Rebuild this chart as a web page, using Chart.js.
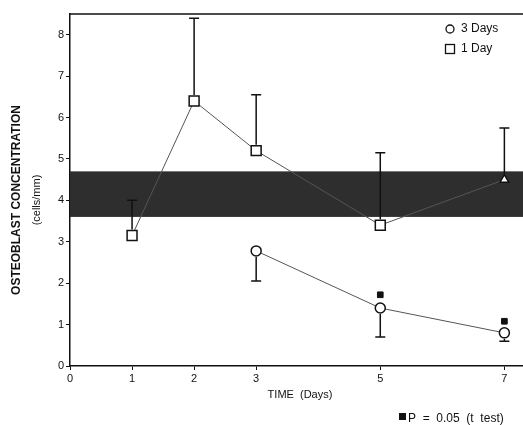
<!DOCTYPE html>
<html>
<head>
<meta charset="utf-8">
<script src="https://cdn.jsdelivr.net/npm/chart.js@4.4.1/dist/chart.umd.min.js"></script>
<style>
  html, body { margin: 0; padding: 0; background: #fff; }
  #wrap { width: 523px; height: 425px; }
</style>
</head>
<body>
<div id="wrap"><canvas id="chart" width="523" height="425"></canvas></div>
<script>
// values
const days1Day = [1, 2, 3, 5, 7];
const conc1Day = [3.15, 6.4, 5.2, 3.4, 4.5];
const errUp1Day = [0.85, 2.0, 1.35, 1.75, 1.25];

const days3Days = [3, 5, 7];
const conc3Days = [2.78, 1.4, 0.8];
const errDown3Days = [0.73, 0.7, 0.2];

const normalBand = [3.6, 4.7];
const sigDays = [5, 7];
const sigConc = [1.72, 1.08];

const xTicks = [0, 1, 2, 3, 5, 7];
const yTicks = [0, 1, 2, 3, 4, 5, 6, 7, 8];

const FONT = '"Liberation Sans", Arial, sans-serif';

const bandPlugin = {
    id: 'band',
    beforeDatasetsDraw(chart) {
        const { ctx, chartArea, scales } = chart;
        const top = scales.y.getPixelForValue(normalBand[1]);
        const bottom = scales.y.getPixelForValue(normalBand[0]);
        ctx.save();
        ctx.fillStyle = '#2e2e2e';
        ctx.fillRect(chartArea.left, top, chartArea.right - chartArea.left, bottom - top);
        ctx.restore();
    }
};

const errorBarPlugin = {
    id: 'errorBars',
    afterDatasetsDraw(chart) {
        const { ctx, scales } = chart;
        const cap = 5;
        ctx.save();
        ctx.strokeStyle = '#111';
        ctx.lineWidth = 1.5;
        const draw = (xs, ys, errs, dir) => {
            xs.forEach((d, i) => {
                const x = scales.x.getPixelForValue(d);
                const y0 = scales.y.getPixelForValue(ys[i]);
                const y1 = scales.y.getPixelForValue(ys[i] + dir * errs[i]);
                ctx.beginPath();
                ctx.moveTo(x, y0 - dir * 6);
                ctx.lineTo(x, y1);
                ctx.moveTo(x - cap, y1);
                ctx.lineTo(x + cap, y1);
                ctx.stroke();
            });
        };
        draw(days1Day, conc1Day, errUp1Day, 1);
        draw(days3Days, conc3Days, errDown3Days, -1);
        ctx.restore();
    }
};

const textPlugin = {
    id: 'texts',
    afterDraw(chart) {
        const { ctx, chartArea } = chart;
        ctx.save();
        ctx.strokeStyle = '#111';
        ctx.lineWidth = 1.5;
        ctx.beginPath();
        ctx.moveTo(chartArea.left, chartArea.top);
        ctx.lineTo(chartArea.right, chartArea.top);
        ctx.stroke();

        // y axis title, two rotated lines
        ctx.fillStyle = '#111';
        ctx.textAlign = 'center';
        ctx.textBaseline = 'middle';
        ctx.save();
        ctx.translate(17, 200);
        ctx.rotate(-Math.PI / 2);
        ctx.font = 'bold 12px ' + FONT;
        ctx.fillText('OSTEOBLAST CONCENTRATION', 0, 0);
        ctx.font = '11px ' + FONT;
        ctx.fillText('(cells/mm)', 0, 20);
        ctx.restore();

        // x axis title
        ctx.font = '11px ' + FONT;
        ctx.fillText('TIME  (Days)', 300, 395);

        // legend
        ctx.textAlign = 'left';
        ctx.font = '12px ' + FONT;
        ctx.lineWidth = 1.3;
        ctx.beginPath();
        ctx.arc(450, 29, 4, 0, Math.PI * 2);
        ctx.stroke();
        ctx.fillText('3 Days', 461, 29);
        ctx.strokeRect(445.5, 44.5, 9, 9);
        ctx.fillText('1 Day', 461, 49);

        // footnote
        ctx.fillRect(399, 413, 7, 7);
        ctx.font = '12px ' + FONT;
        ctx.fillText('P  =  0.05  (t  test)', 408, 419);
        ctx.restore();
    }
};

new Chart(document.getElementById('chart'), {
    type: 'scatter',
    data: {
        datasets: [
            {
                label: '1 Day',
                data: days1Day.map((d, i) => ({ x: d, y: conc1Day[i] })),
                showLine: true,
                borderColor: '#555',
                borderWidth: 1,
                pointStyle: ['rect', 'rect', 'rect', 'rect', 'triangle'],
                pointRadius: [7, 7, 7, 7, 5],
                pointBackgroundColor: '#fff',
                pointBorderColor: '#111',
                pointBorderWidth: 1.5
            },
            {
                label: '3 Days',
                data: days3Days.map((d, i) => ({ x: d, y: conc3Days[i] })),
                showLine: true,
                borderColor: '#555',
                borderWidth: 1,
                pointStyle: 'circle',
                pointRadius: 5,
                pointBackgroundColor: '#fff',
                pointBorderColor: '#111',
                pointBorderWidth: 1.5
            },
            {
                label: 'significant',
                data: sigDays.map((d, i) => ({ x: d, y: sigConc[i] })),
                showLine: false,
                pointStyle: 'rect',
                pointRadius: 4,
                pointBackgroundColor: '#111',
                pointBorderColor: '#111'
            }
        ]
    },
    options: {
        responsive: false,
        animation: false,
        layout: { autoPadding: false, padding: { top: 14, right: 0, left: 0, bottom: 0 } },
        plugins: {
            legend: { display: false },
            tooltip: { enabled: false }
        },
        scales: {
            x: {
                type: 'linear',
                min: 0,
                max: 7.3,
                afterBuildTicks: (scale) => { scale.ticks = xTicks.map(v => ({ value: v })); },
                afterFit: (scale) => {
                    scale.height = 59;
                    scale.paddingLeft = 0;
                    scale.paddingRight = 0;
                },
                ticks: { color: '#111', font: { size: 11, family: FONT }, padding: 2 },
                grid: { drawOnChartArea: false, color: '#111', tickLength: 4 },
                border: { color: '#111', width: 1.5 }
            },
            y: {
                min: 0,
                max: 8.5,
                afterBuildTicks: (scale) => { scale.ticks = yTicks.map(v => ({ value: v })); },
                afterFit: (scale) => {
                    scale.width = 70;
                    scale.paddingTop = 0;
                    scale.paddingBottom = 0;
                },
                ticks: { color: '#111', font: { size: 11, family: FONT }, padding: 2 },
                grid: { drawOnChartArea: false, color: '#111', tickLength: 4 },
                border: { color: '#111', width: 1.5 }
            }
        }
    },
    plugins: [bandPlugin, errorBarPlugin, textPlugin]
});
</script>
</body>
</html>
